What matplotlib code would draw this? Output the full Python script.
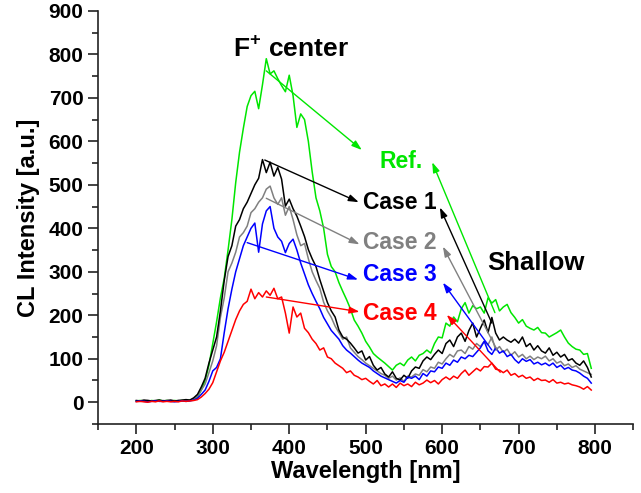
import numpy as np
import matplotlib
matplotlib.use("Agg")
import matplotlib.pyplot as plt
from matplotlib.ticker import MultipleLocator

plt.rcParams['font.family'] = ['Liberation Sans', 'DejaVu Sans']
plt.rcParams['font.weight'] = 'bold'
plt.rcParams['mathtext.fontset'] = 'custom'
plt.rcParams['mathtext.bf'] = 'Liberation Sans:bold'
plt.rcParams['mathtext.rm'] = 'Liberation Sans:bold'

wavelength = np.arange(200, 800, 5)

# rows of 15 points: 200-270, 275-345, 350-420, 425-495, 500-570, 575-645, 650-720, 725-795 nm
ref = [3, 4, 3, 2, 4, 3, 5, 3, 4, 3, 4, 3, 4, 3, 5,
       6, 12, 28, 50, 85, 135, 185, 240, 285, 350, 420, 505, 575, 630, 680,
       705, 715, 675, 730, 790, 755, 762, 744, 728, 714, 752, 705, 632, 663, 650,
       600, 530, 470, 440, 400, 340, 312, 300, 275, 255, 236, 215, 189, 175, 159,
       140, 127, 112, 104, 97, 90, 82, 74, 85, 90, 84, 97, 104, 95, 108,
       112, 120, 113, 135, 150, 148, 182, 175, 196, 185, 215, 229, 205, 222, 215,
       219, 205, 240, 228, 236, 210, 219, 225, 206, 195, 182, 190, 175, 170, 166,
       172, 160, 159, 150, 155, 160, 166, 150, 136, 128, 122, 120, 110, 112, 78]

case1 = [4, 3, 5, 4, 3, 4, 5, 3, 4, 5, 3, 4, 5, 6, 5,
         10, 18, 35, 55, 90, 120, 150, 210, 280, 335, 360, 405, 420, 445, 460,
         480, 500, 515, 558, 528, 552, 520, 540, 513, 451, 467, 445, 428, 405, 381,
         351, 330, 312, 282, 255, 229, 210, 196, 166, 150, 145, 136, 125, 113, 118,
         97, 105, 85, 74, 80, 65, 58, 70, 55, 51, 62, 55, 72, 81, 78,
         95, 104, 98, 110, 120, 112, 135, 143, 128, 150, 159, 140, 165, 182, 150,
         170, 189, 160, 195, 159, 143, 150, 143, 138, 145, 136, 150, 128, 135, 120,
         130, 118, 113, 125, 108, 115, 104, 110, 96, 100, 90, 85, 95, 80, 58]

case2 = [3, 2, 3, 4, 3, 2, 3, 4, 3, 3, 2, 4, 3, 4, 4,
         8, 14, 28, 42, 68, 95, 130, 195, 240, 300, 320, 345, 380, 390, 405,
         436, 445, 460, 470, 490, 497, 470, 455, 470, 430, 450, 420, 385, 360, 365,
         330, 300, 280, 262, 230, 210, 195, 175, 160, 145, 150, 125, 115, 105, 98,
         90, 84, 78, 72, 66, 62, 55, 60, 51, 56, 48, 60, 58, 65, 62,
         75, 70, 81, 78, 92, 88, 100, 110, 104, 118, 120, 112, 128, 122, 135,
         128, 140, 132, 150, 120, 128, 115, 122, 108, 116, 104, 110, 100, 106, 98,
         104, 100, 106, 95, 100, 90, 94, 84, 88, 80, 84, 76, 72, 68, 64]

case3 = [2, 3, 2, 1, 2, 3, 2, 2, 3, 2, 1, 2, 3, 2, 3,
         5, 9, 18, 28, 48, 72, 80, 100, 160, 215, 260, 300, 330, 360, 380,
         400, 412, 345, 410, 440, 450, 400, 380, 370, 344, 365, 375, 350, 320, 295,
         270, 250, 232, 215, 195, 180, 165, 155, 145, 130, 120, 113, 105, 97, 90,
         85, 80, 72, 66, 60, 56, 52, 48, 44, 50, 46, 58, 55, 60, 52,
         66, 60, 72, 70, 81, 78, 90, 85, 97, 92, 104, 100, 108, 105, 115,
         125, 140, 118, 110, 125, 113, 118, 105, 110, 98, 90, 100, 94, 98, 88,
         92, 86, 90, 84, 90, 80, 85, 76, 80, 74, 72, 67, 60, 55, 44]

case4 = [1, 2, 1, 0, 2, 1, 3, 1, 2, 1, 2, 1, 3, 2, 3,
         4, 6, 12, 20, 30, 45, 70, 95, 115, 140, 165, 190, 210, 225, 232,
         260, 238, 252, 242, 256, 246, 262, 238, 242, 205, 159, 219, 196, 205, 170,
         160, 145, 135, 120, 125, 104, 100, 90, 84, 78, 68, 72, 62, 58, 52,
         55, 48, 42, 50, 38, 42, 35, 42, 34, 44, 38, 42, 36, 46, 40,
         44, 51, 45, 50, 42, 52, 58, 52, 60, 55, 66, 74, 62, 70, 78,
         72, 82, 81, 90, 76, 74, 68, 74, 62, 66, 58, 62, 55, 58, 50,
         55, 50, 51, 46, 52, 44, 46, 42, 44, 40, 38, 35, 30, 36, 28]

green = "#00e600"
series = [("Ref.", ref, green),
          ("Case 2", case2, "#808080"),
          ("Case 1", case1, "black"),
          ("Case 3", case3, "#0000ff"),
          ("Case 4", case4, "#ff0000")]

fig = plt.figure(figsize=(6.41, 4.93), dpi=100)
ax = fig.add_axes([0.153, 0.14, 0.835, 0.838])

for name, vals, col in series:
    ax.plot(wavelength, vals, color=col, lw=1.1)

ax.set_xlim(150, 850)
ax.set_ylim(-50, 900)
yt = list(range(0, 1000, 100))
ax.set_yticks(yt)
ax.set_yticks(list(range(-50, 950, 100)), minor=True)
xt = list(range(200, 900, 100))
ax.set_xticks(xt)
ax.set_xticks([150, 250, 350, 450, 550, 650, 750, 850], minor=True)

ax.spines['top'].set_visible(False)
ax.spines['right'].set_visible(False)
for s in ['left', 'bottom']:
    ax.spines[s].set_linewidth(1.2)
    ax.spines[s].set_color('#222222')
ax.tick_params(which='major', direction='out', length=7, width=1.2,
               colors='#222222', labelcolor='black')
ax.tick_params(which='minor', direction='out', length=4, width=1.2, colors='#222222')
ax.set_xticklabels([str(v) for v in xt], fontsize=15, fontweight='bold')
ax.set_yticklabels([str(v) for v in yt], fontsize=15, fontweight='bold')
ax.set_xlabel("Wavelength [nm]", fontsize=17, fontweight='bold', labelpad=2)
ax.set_ylabel("CL Intensity [a.u.]", fontsize=17, fontweight='bold', labelpad=6)

ax.text(326, 813, r"F$^{\mathbf{+}}$ center", fontsize=19, fontweight='bold', va='center')
ax.text(659, 321, "Shallow", fontsize=18.5, fontweight='bold', va='center')
labels = [("Ref.", 518, 554, green),
          ("Case 1", 497, 460, "black"),
          ("Case 2", 497, 367, "#808080"),
          ("Case 3", 497, 293, "#0000ff"),
          ("Case 4", 497, 205, "#ff0000")]
for txt, x, y, col in labels:
    ax.text(x, y, txt, color=col, fontsize=16.5, fontweight='bold', va='center')

# arrows: tail -> head, one from the F+ band and one from the shallow band
arrows = [((370, 762), (495, 580), (669, 206), (587, 552), green),
          ((368, 557), (491, 460), (665, 182), (597, 448), "black"),
          ((370, 469), (492, 363), (672, 120), (601, 358), "#808080"),
          ((345, 367), (490, 282), (665, 120), (601, 275), "#0000ff"),
          ((370, 242), (492, 208), (676, 69), (606, 201), "#ff0000")]
for t1, h1, t2, h2, col in arrows:
    for t, h in [(t1, h1), (t2, h2)]:
        ax.annotate("", xy=h, xytext=t,
                    arrowprops=dict(arrowstyle="-|>,head_length=0.6,head_width=0.2",
                                    color=col, lw=1.0, shrinkA=0, shrinkB=0))

fig.savefig("out.png", dpi=100)
